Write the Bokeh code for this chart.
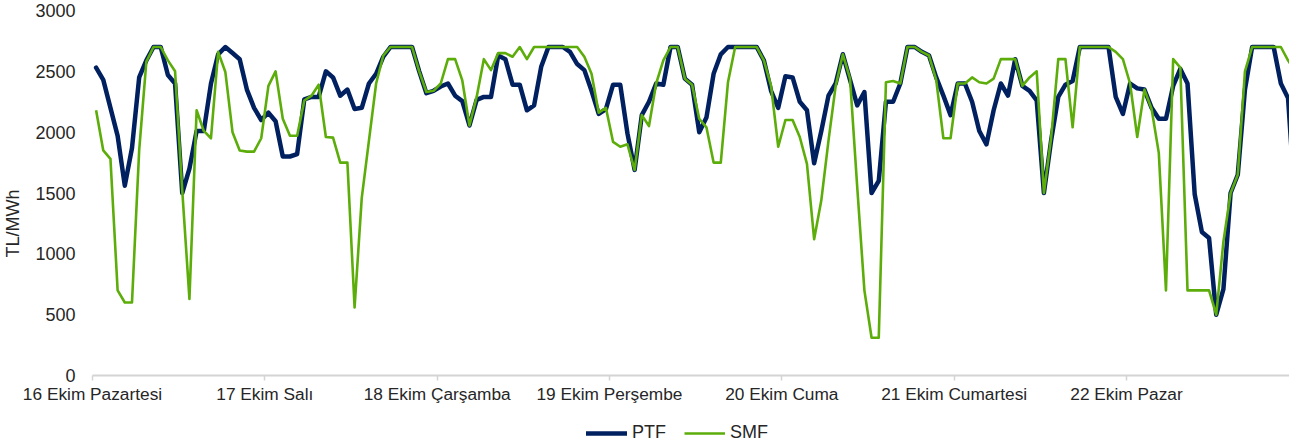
from bokeh.plotting import figure
from bokeh.models import Range1d, FixedTicker, Legend, LegendItem
from bokeh.embed import file_html
from bokeh.resources import INLINE

days = ["16 Ekim Pazartesi", "17 Ekim Salı", "18 Ekim Çarşamba", "19 Ekim Perşembe",
        "20 Ekim Cuma", "21 Ekim Cumartesi", "22 Ekim Pazar"]
y_ticks = [0, 500, 1000, 1500, 2000, 2500, 3000]

ptf = [2530, 2430, 2200, 1970, 1560, 1870, 2450, 2590, 2700, 2700, 2470, 2400, 1500, 1700, 2010, 2010,
       2400, 2640, 2700, 2650, 2600, 2350, 2200, 2100,
       2160, 2090, 1800, 1800, 1820, 2270, 2290, 2290, 2500, 2450, 2300, 2350, 2190, 2200, 2400, 2480,
       2620, 2700, 2700, 2700, 2700, 2500, 2320, 2340,
       2375, 2400, 2300, 2255, 2055, 2265, 2290, 2290, 2630, 2600, 2390, 2390, 2180, 2220, 2540, 2700,
       2700, 2700, 2660, 2560, 2510, 2340, 2150, 2190,
       2390, 2390, 1990, 1690, 2140, 2250, 2400, 2390, 2700, 2700, 2440, 2390, 2000, 2120, 2480, 2640,
       2700, 2700, 2700, 2700, 2700, 2590, 2340, 2200,
       2460, 2450, 2250, 2180, 1745, 2010, 2300, 2400, 2640, 2430, 2220, 2330, 1500, 1600, 2250, 2250,
       2400, 2700, 2700, 2660, 2630, 2450, 2300, 2140,
       2400, 2400, 2250, 2010, 1900, 2180, 2400, 2300, 2600, 2380, 2340, 2260, 1500, 1930, 2290, 2390,
       2420, 2700, 2700, 2700, 2700, 2700, 2290, 2150,
       2400, 2360, 2350, 2200, 2110, 2110, 2380, 2520, 2400, 1490, 1180, 1130, 500, 710, 1500, 1650,
       2350, 2700, 2700, 2700, 2700, 2400, 2280, 1400]

smf = [2180, 1850, 1780, 700, 600, 600, 1850, 2580, 2700, 2700, 2590, 2500, 1520, 630, 2180, 2010,
       1950, 2660, 2495, 2000, 1850, 1840, 1840, 1950,
       2380, 2500, 2110, 1970, 1970, 2260, 2300, 2390, 1960, 1955, 1750, 1750, 560, 1460, 1930, 2400,
       2630, 2700, 2700, 2700, 2700, 2500, 2330, 2340,
       2400, 2600, 2600, 2425, 2055, 2290, 2600, 2510, 2650, 2650, 2620, 2700, 2600, 2700, 2700, 2700,
       2700, 2700, 2700, 2700, 2620, 2480, 2160, 2200,
       1920, 1880, 1900, 1690, 2140, 2050, 2400, 2590, 2700, 2700, 2440, 2390, 2110, 2040, 1750, 1750,
       2410, 2700, 2700, 2700, 2700, 2590, 2380, 1880,
       2100, 2100, 1960, 1740, 1120, 1440, 1930, 2380, 2640, 2440, 1550, 700, 310, 310, 2410, 2420,
       2400, 2700, 2700, 2660, 2630, 2430, 1950, 1950,
       2400, 2400, 2450, 2410, 2400, 2440, 2600, 2600, 2600, 2380, 2450, 2500, 1500, 1950, 2600, 2600,
       2040, 2700, 2700, 2700, 2700, 2700, 2660, 2600,
       2400, 1960, 2350, 2190, 1830, 700, 2600, 2530, 700, 700, 700, 700, 500, 1100, 1500, 1650,
       2500, 2700, 2700, 2700, 2700, 2700, 2590, 2500]

hours = list(range(len(ptf)))
per_day = len(ptf) // len(days)
day_ticks = [k * per_day - 0.5 for k in range(len(days))]

FONT = "Liberation Sans"
TXT = "#262626"

W, H = 1289, 446
LEFT = 92                  # canvas x of the first day boundary
PX_HOUR = 172.33 / 24      # pixels per hour
TOP, ZERO = 10, 375        # canvas y of 3000 and of 0
k = (ZERO - TOP) / 3000.0

x0 = -0.5 - LEFT / PX_HOUR
x1 = -0.5 + (W - LEFT) / PX_HOUR
y1 = 3000 + TOP / k
y0 = -(H - ZERO) / k

p = figure(width=W, height=H, output_backend="svg", toolbar_location=None,
           x_range=Range1d(x0, x1), y_range=Range1d(y0, y1),
           min_border_left=0, min_border_right=0, min_border_top=0, min_border_bottom=0)
p.outline_line_color = None
p.xgrid.visible = False
p.ygrid.visible = False
p.background_fill_color = "white"
p.border_fill_color = "white"

r_ptf = p.line(hours, ptf, line_color="#002060", line_width=4.5, line_join="round", line_cap="round")
r_smf = p.line(hours, smf, line_color="#5CAD0A", line_width=2.6, line_join="round")

# x axis, pinned at value 0
p.xaxis.fixed_location = 0
p.xaxis.bounds = (-0.5, x1)
p.xaxis.ticker = FixedTicker(ticks=day_ticks)
p.xaxis.major_label_overrides = {t: d for t, d in zip(day_ticks, days)}
p.xaxis.axis_line_color = "#d4d4d4"
p.xaxis.axis_line_width = 2
p.xaxis.major_tick_line_color = "#d4d4d4"
p.xaxis.major_tick_line_width = 1.5
p.xaxis.major_tick_out = 5
p.xaxis.major_tick_in = 0
p.xaxis.minor_tick_line_color = None
p.xaxis.major_label_standoff = 3
p.xaxis.major_label_text_font = FONT
p.xaxis.major_label_text_font_size = "17.3px"
p.xaxis.major_label_text_color = TXT

# y axis, pinned at the first day boundary
p.yaxis.fixed_location = -0.5
p.yaxis.ticker = FixedTicker(ticks=y_ticks)
p.yaxis.axis_line_color = None
p.yaxis.major_tick_line_color = None
p.yaxis.minor_tick_line_color = None
p.yaxis.major_label_standoff = 11
p.yaxis.major_label_text_font = FONT
p.yaxis.major_label_text_font_size = "18px"
p.yaxis.major_label_text_color = TXT
p.yaxis.axis_label = "TL/MWh"
p.yaxis.axis_label_text_font = FONT
p.yaxis.axis_label_text_font_size = "18px"
p.yaxis.axis_label_text_font_style = "normal"
p.yaxis.axis_label_text_color = TXT
p.yaxis.axis_label_standoff = 9

legend = Legend(items=[LegendItem(label="PTF", renderers=[r_ptf]),
                       LegendItem(label="SMF", renderers=[r_smf])],
                orientation="horizontal", location=(586, 3))
legend.glyph_width = 41
legend.glyph_height = 20
legend.label_height = 20
legend.label_standoff = 5
legend.spacing = 18
legend.padding = 0
legend.margin = 0
legend.border_line_alpha = 0
legend.background_fill_alpha = 0
legend.label_text_font = FONT
legend.label_text_font_size = "18px"
legend.label_text_color = TXT
p.add_layout(legend, "center")

open("out.html", "w").write(file_html(p, INLINE))
